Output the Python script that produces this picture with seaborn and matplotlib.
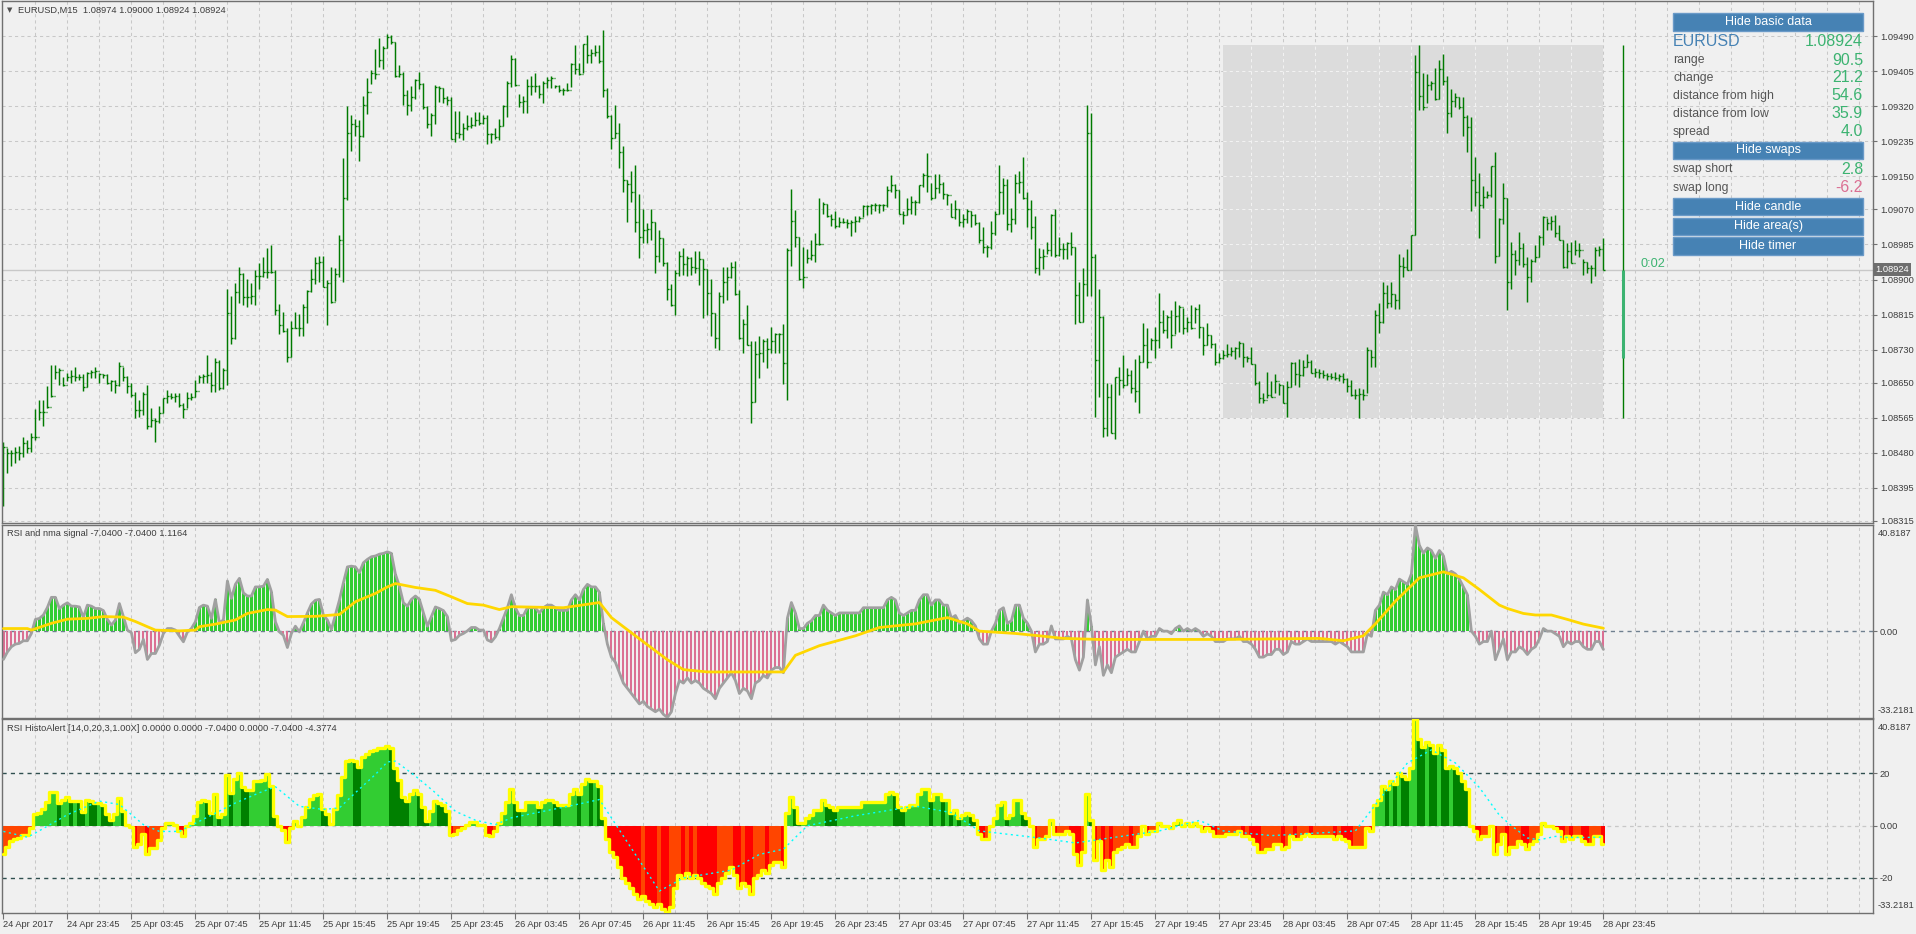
import numpy as np
import pandas as pd
import matplotlib
matplotlib.use('Agg')
import matplotlib.pyplot as plt
from matplotlib.patches import Rectangle
import seaborn as sns

# EURUSD M15 bars, 24 Apr 19:45 -> 28 Apr 23:45, prices in points (1e-5)
start_time = '2017-04-24 19:45'
first_open = 108460
high = [108507, 108491, 108487, 108495, 108497, 108519, 108510, 108528, 108586, 108607,
        108607, 108642, 108693, 108693, 108685, 108665, 108674, 108681, 108687, 108670,
        108671, 108677, 108681, 108687, 108673, 108671, 108671, 108657, 108657, 108701,
        108689, 108666, 108650, 108628, 108608, 108628, 108645, 108588, 108564, 108594,
        108612, 108632, 108626, 108624, 108624, 108600, 108628, 108626, 108657, 108669,
        108671, 108717, 108677, 108709, 108704, 108685, 108876, 108859, 108891, 108930,
        108917, 108901, 108891, 108922, 108941, 108954, 108976, 108984, 108922, 108841,
        108822, 108782, 108800, 108822, 108817, 108841, 108875, 108925, 108954, 108957,
        108957, 108899, 108930, 108927, 109008, 109194, 109321, 109299, 109288, 109287,
        109345, 109388, 109408, 109458, 109485, 109466, 109495, 109493, 109476, 109420,
        109404, 109359, 109369, 109385, 109404, 109376, 109321, 109303, 109372, 109369,
        109363, 109345, 109342, 109309, 109309, 109279, 109299, 109295, 109307, 109307,
        109299, 109299, 109256, 109267, 109288, 109323, 109380, 109444, 109436, 109350,
        109345, 109385, 109393, 109400, 109372, 109382, 109392, 109393, 109372, 109372,
        109363, 109377, 109424, 109468, 109424, 109472, 109493, 109458, 109468, 109468,
        109505, 109363, 109299, 109323, 109279, 109224, 109141, 109164, 109178, 109107,
        109070, 109038, 109070, 109040, 109020, 109000, 108943, 108889, 108922, 108970,
        108976, 108957, 108954, 108970, 108968, 108949, 108925, 108901, 108818, 108871,
        108930, 108931, 108943, 108946, 108875, 108804, 108838, 108750, 108750, 108763,
        108755, 108758, 108786, 108770, 108771, 108792, 108976, 109119, 109069, 109004,
        108978, 108973, 108996, 109012, 109097, 109089, 109083, 109060, 109067, 109052,
        109048, 109046, 109044, 109054, 109054, 109081, 109081, 109083, 109086, 109083,
        109083, 109127, 109153, 109131, 109117, 109065, 109097, 109102, 109093, 109129,
        109157, 109206, 109135, 109156, 109156, 109137, 109107, 109086, 109093, 109070,
        109060, 109070, 109065, 109059, 109040, 109028, 108984, 109043, 109067, 109178,
        109145, 109143, 109073, 109156, 109164, 109198, 109113, 109093, 109054, 108976,
        108973, 108992, 109059, 109070, 109004, 108989, 108992, 109014, 108980, 108895,
        108927, 109323, 109304, 108962, 108876, 108812, 108650, 108647, 108665, 108687,
        108717, 108685, 108681, 108707, 108717, 108794, 108782, 108758, 108786, 108867,
        108826, 108814, 108826, 108849, 108838, 108830, 108810, 108838, 108834, 108841,
        108786, 108794, 108766, 108746, 108723, 108729, 108744, 108736, 108737, 108752,
        108747, 108715, 108736, 108695, 108653, 108626, 108677, 108655, 108671, 108649,
        108645, 108653, 108701, 108701, 108707, 108704, 108720, 108704, 108685, 108682,
        108681, 108674, 108673, 108677, 108671, 108673, 108661, 108657, 108634, 108636,
        108634, 108737, 108729, 108826, 108844, 108895, 108887, 108895, 108865, 108963,
        108954, 108973, 109008, 109444, 109468, 109401, 109398, 109380, 109412, 109432,
        109447, 109393, 109361, 109353, 109343, 109342, 109299, 109295, 109198, 109157,
        109127, 109115, 109174, 109210, 109048, 109135, 109097, 108992, 108972, 109016,
        108989, 108954, 108949, 108984, 109008, 109054, 109048, 109054, 109056, 109032,
        108996, 108989, 108992, 108996, 108989, 108949, 108943, 108935, 108980, 108981,
        109000]
low = [108350, 108430, 108447, 108455, 108463, 108471, 108479, 108483, 108510, 108560,
       108545, 108588, 108616, 108658, 108645, 108641, 108653, 108650, 108653, 108657,
       108631, 108639, 108661, 108661, 108650, 108661, 108647, 108630, 108624, 108642,
       108655, 108626, 108616, 108564, 108566, 108572, 108537, 108542, 108507, 108553,
       108576, 108600, 108610, 108604, 108592, 108564, 108588, 108607, 108616, 108650,
       108650, 108649, 108628, 108628, 108632, 108634, 108645, 108744, 108755, 108842,
       108838, 108833, 108841, 108838, 108876, 108907, 108903, 108915, 108814, 108768,
       108774, 108701, 108712, 108782, 108763, 108762, 108794, 108871, 108889, 108895,
       108881, 108790, 108842, 108849, 108905, 108895, 109093, 109212, 109248, 109188,
       109246, 109301, 109374, 109385, 109416, 109409, 109460, 109471, 109392, 109390,
       109323, 109299, 109309, 109337, 109361, 109313, 109267, 109248, 109277, 109331,
       109327, 109323, 109240, 109234, 109242, 109237, 109262, 109267, 109272, 109275,
       109277, 109228, 109230, 109240, 109237, 109271, 109295, 109367, 109369, 109317,
       109303, 109303, 109347, 109355, 109339, 109327, 109363, 109363, 109363, 109355,
       109347, 109358, 109367, 109397, 109396, 109400, 109424, 109424, 109442, 109424,
       109343, 109291, 109216, 109242, 109170, 109113, 109040, 109089, 109016, 108951,
       108988, 108989, 108996, 108917, 108943, 108933, 108850, 108836, 108814, 108909,
       108911, 108909, 108911, 108917, 108887, 108806, 108814, 108762, 108733, 108729,
       108844, 108850, 108903, 108863, 108755, 108723, 108741, 108552, 108604, 108661,
       108701, 108685, 108721, 108721, 108721, 108647, 108607, 108933, 108980, 108899,
       108879, 108941, 108947, 108943, 108984, 109060, 109052, 109030, 109024, 109028,
       109036, 109024, 109006, 109014, 109040, 109052, 109056, 109059, 109065, 109062,
       109067, 109075, 109113, 109097, 109060, 109035, 109056, 109060, 109056, 109086,
       109125, 109113, 109093, 109097, 109109, 109094, 109081, 109051, 109046, 109030,
       109027, 109038, 109028, 109032, 108989, 108965, 108954, 108973, 109008, 109060,
       109060, 109020, 109016, 109035, 109109, 109094, 109027, 108998, 108915, 108911,
       108925, 108962, 108956, 108954, 108957, 108949, 108949, 108960, 108792, 108796,
       108798, 108860, 108860, 108568, 108616, 108519, 108521, 108529, 108513, 108620,
       108637, 108645, 108626, 108604, 108576, 108701, 108685, 108729, 108709, 108733,
       108770, 108758, 108733, 108768, 108774, 108768, 108774, 108780, 108794, 108758,
       108717, 108741, 108733, 108693, 108697, 108707, 108713, 108715, 108707, 108713,
       108689, 108701, 108695, 108645, 108600, 108600, 108612, 108615, 108626, 108620,
       108600, 108568, 108639, 108645, 108640, 108666, 108687, 108673, 108665, 108661,
       108661, 108657, 108658, 108657, 108653, 108649, 108628, 108618, 108610, 108564,
       108608, 108624, 108689, 108689, 108771, 108794, 108830, 108834, 108828, 108828,
       108905, 108922, 108922, 109008, 109311, 109311, 109329, 109359, 109335, 109337,
       109372, 109256, 109295, 109317, 109313, 109248, 109210, 109067, 109077, 109000,
       109073, 109097, 109101, 108939, 108956, 109035, 108826, 108876, 108911, 108935,
       108931, 108846, 108895, 108943, 108954, 108984, 109020, 109019, 109002, 108996,
       108927, 108927, 108939, 108960, 108954, 108911, 108915, 108891, 108909, 108956,
       108924]
close = [108495, 108479, 108479, 108483, 108479, 108505, 108491, 108519, 108519, 108578,
         108578, 108592, 108618, 108677, 108681, 108645, 108663, 108666, 108665, 108665,
         108639, 108674, 108677, 108679, 108671, 108669, 108649, 108654, 108645, 108691,
         108663, 108641, 108620, 108584, 108584, 108623, 108545, 108560, 108557, 108576,
         108612, 108618, 108616, 108618, 108596, 108586, 108612, 108616, 108631, 108665,
         108666, 108669, 108645, 108699, 108637, 108681, 108820, 108758, 108871, 108914,
         108857, 108857, 108859, 108909, 108909, 108919, 108919, 108919, 108826, 108790,
         108776, 108712, 108782, 108782, 108782, 108833, 108873, 108901, 108941, 108943,
         108883, 108892, 108846, 108914, 108996, 109097, 109256, 109277, 109272, 109248,
         109323, 109355, 109401, 109398, 109432, 109460, 109487, 109476, 109393, 109398,
         109347, 109323, 109343, 109384, 109374, 109317, 109277, 109299, 109366, 109363,
         109339, 109335, 109240, 109254, 109253, 109267, 109271, 109275, 109287, 109280,
         109291, 109253, 109253, 109245, 109271, 109321, 109376, 109434, 109372, 109331,
         109333, 109369, 109369, 109369, 109350, 109377, 109384, 109388, 109369, 109359,
         109359, 109359, 109422, 109409, 109398, 109471, 109444, 109448, 109452, 109430,
         109359, 109296, 109242, 109254, 109210, 109141, 109132, 109111, 109040, 109002,
         109020, 109022, 109040, 108957, 109000, 108941, 108876, 108838, 108917, 108957,
         108938, 108951, 108930, 108927, 108949, 108925, 108867, 108818, 108758, 108860,
         108895, 108905, 108931, 108865, 108758, 108792, 108741, 108604, 108720, 108721,
         108752, 108731, 108752, 108768, 108768, 108697, 108972, 109043, 109002, 108901,
         108905, 108951, 108960, 108986, 108986, 109083, 109054, 109046, 109030, 109040,
         109040, 109036, 109040, 109043, 109048, 109078, 109078, 109081, 109081, 109081,
         109081, 109117, 109129, 109117, 109060, 109056, 109070, 109089, 109089, 109129,
         109153, 109151, 109097, 109121, 109131, 109107, 109105, 109051, 109070, 109040,
         109046, 109065, 109056, 109036, 108996, 108980, 108978, 109012, 109060, 109111,
         109129, 109035, 109046, 109135, 109137, 109097, 109070, 109028, 108927, 108954,
         108956, 108972, 109056, 108960, 108973, 108973, 108989, 108978, 108863, 108798,
         108889, 109256, 108954, 108705, 108810, 108540, 108615, 108529, 108665, 108657,
         108645, 108669, 108637, 108631, 108701, 108741, 108701, 108754, 108754, 108798,
         108778, 108810, 108766, 108812, 108834, 108782, 108798, 108782, 108828, 108784,
         108741, 108766, 108744, 108701, 108709, 108717, 108720, 108728, 108733, 108746,
         108712, 108709, 108695, 108649, 108612, 108608, 108620, 108616, 108653, 108645,
         108602, 108640, 108697, 108671, 108669, 108689, 108701, 108674, 108677, 108673,
         108669, 108666, 108665, 108661, 108666, 108658, 108642, 108620, 108620, 108623,
         108620, 108729, 108713, 108814, 108796, 108868, 108844, 108865, 108850, 108933,
         108931, 108922, 109008, 109404, 109345, 109319, 109372, 109376, 109337, 109409,
         109380, 109304, 109333, 109342, 109317, 109295, 109269, 109141, 109113, 109081,
         109101, 109105, 109174, 108956, 109046, 109097, 108895, 108962, 108947, 108976,
         108938, 108905, 108946, 108954, 109004, 109052, 109038, 109043, 109012, 108996,
         108930, 108968, 108941, 108972, 108972, 108943, 108927, 108927, 108972, 108974,
         108924]

# RSI(14) - 50, one value per bar
rsi = [-10.9, -8.0, -6.0, -5.0, -4.7, -3.7, -3.7, -0.9, 4.5, 4.9,
       6.2, 9.1, 13.0, 13.0, 8.7, 10.0, 10.9, 9.6, 9.6, 9.3,
       5.3, 10.0, 9.6, 8.7, 8.7, 7.9, 4.5, 2.3, 4.3, 10.6,
       5.6, 0.4, -0.6, -8.3, -7.0, -3.2, -10.9, -8.6, -8.6, -5.4,
       -0.9, 1.0, 1.0, 0.4, -1.9, -4.1, -0.3, 1.0, 3.6, 9.1,
       10.0, 9.6, 4.9, 12.2, 3.2, 4.3, 19.3, 12.6, 18.0, 20.3,
       14.7, 13.5, 13.5, 17.0, 17.0, 17.3, 19.9, 15.2, 3.6, -0.3,
       -1.6, -6.3, -0.9, 1.9, -0.3, 3.2, 7.0, 10.4, 11.9, 12.2,
       6.2, 4.3, 0.6, 6.2, 11.9, 18.6, 24.7, 25.0, 24.7, 22.5,
       26.3, 27.6, 28.6, 28.9, 29.6, 29.9, 30.5, 29.9, 21.9, 17.3,
       10.9, 9.6, 12.2, 13.5, 12.2, 7.0, 1.9, 5.6, 9.3, 8.7,
       7.9, 5.6, -3.7, -3.2, -1.6, -0.9, 0.1, 1.4, 1.4, 0.4,
       0.4, -3.4, -4.1, -2.2, 1.0, 5, 9, 14, 9, 6,
       6, 9, 9, 9, 7, 9, 10, 10, 9, 8,
       8, 8, 12, 14, 12, 16, 18, 17, 17, 15,
       3, -5, -10, -12, -16, -20, -22, -24, -26, -28,
       -27, -29, -30, -31, -30, -32, -33.2, -31, -24, -19,
       -20, -18, -20, -19, -20, -22, -23, -24, -26, -22,
       -20, -18, -16, -19, -24, -22, -23, -26, -20, -19,
       -17, -18, -15, -14, -14, -16, 5, 11, 7, 1,
       1, 3, 4, 6, 6, 10, 8, 7, 6, 7,
       7, 7, 7, 7, 7, 9, 9, 9, 9, 9,
       9, 12, 13, 12, 7, 6, 7, 8, 8, 12,
       14, 14, 10, 12, 12, 10, 10, 5, 6, 3,
       4, 5, 4, 2, -3, -5, -5, 0, 3, 8,
       9, 3, 4, 10, 10, 5, 3, 0, -8, -5,
       -5, -4, 2, -3, -3, -3, -2, -3, -11, -15,
       -10, 12, 2, -13, -6, -17, -13, -16, -10, -9,
       -8, -7, -8, -8, -4, 0, -3, -2, -2, 1,
       0, 0, -1, 1, 2, 0, 1, 0, 1, 0,
       -2, -1, -2, -4, -4, -4, -3, -3, -3, -2,
       -4, -4, -5, -7, -10, -10, -9, -9, -7, -7,
       -9, -8, -4, -5, -5, -4, -3, -4, -4, -4,
       -4, -4, -4, -5, -4, -5, -6, -8, -8, -8,
       -8, -1, -2, 8, 10, 15, 14, 17, 16, 20,
       19, 18, 22, 40.8, 33, 30, 32, 31, 28, 31,
       29, 22, 23, 22, 20, 17, 14, 0, -2, -5,
       -4, -4, 0, -11, -7, -3, -11, -8, -8, -6,
       -7, -9, -7, -6, -3, 1, 0, 0, -1, -2,
       -6, -4, -5, -4, -4, -6, -7, -7, -4, -4,
       -7.04]

# nma signal (panel 1, yellow)
sig_bar = [0, 6, 7, 12, 16, 21, 25, 30, 33, 36, 38, 44, 48, 49, 53, 58, 61, 66, 68, 71,
           78, 84, 88, 93, 96, 98, 103, 108, 112, 116, 120, 124, 127, 140, 149, 152, 158, 166, 170, 176,
           195, 198, 204, 213, 219, 228, 236, 241, 244, 253, 259, 265, 274, 305, 329, 335, 340, 343, 348, 354,
           360, 365, 369, 374, 376, 380, 383, 387, 391, 395, 400]
sig_val = [1.0, 1.0, 0.4, 3.0, 4.6, 4.9, 5.6, 5.4, 3.7, 1.7, 0.4, 0.1, 0.4, 1.7, 2.7, 4.3, 6.8, 8.3, 8.1, 5.6,
           5.7, 6.4, 11.3, 14.5, 17.0, 18.3, 16.8, 15.7, 13.2, 10.6, 10.0, 8.3, 9.4, 9.0, 11.0, 5.2, -1.8, -11.0, -14.8, -15.7,
           -15.7, -9.3, -5.6, -1.8, 1.4, 2.8, 5.2, 2.8, 0.0, -0.9, -1.8, -2.8, -3.2, -3.2, -2.8, -3.7, -1.8, 2.8, 11.5, 20.5,
           22.8, 20.5, 16.0, 10.0, 8.7, 6.8, 6.2, 6.2, 4.5, 2.7, 1.1164]

# histo alert signal (panel 2, cyan dotted)
cyan_bar = [0, 6, 8, 16, 24, 29, 35, 39, 44, 49, 58, 64, 68, 74, 80, 84, 88, 93, 96, 98,
            103, 108, 113, 118, 123, 127, 143, 149, 164, 170, 182, 189, 195, 201, 213, 228, 237, 244, 259, 268,
            289, 299, 305, 317, 338, 345, 351, 357, 363, 369, 374, 377, 381, 384, 388, 391, 396, 400]
cyan_val = [-2.2, -4.4, -2.8, 4.2, 9.4, 8.1, 0.4, -2.2, -2.2, 1.7, 8.7, 12.6, 14.9, 7.4, 6.2, 6.8, 12.6, 19.6, 24.4, 24.7,
            19.0, 12.6, 5.5, 2.1, 0.4, 3.0, 8.0, 10.0, -25.0, -20.0, -17.0, -11.0, -9.0, 0.0, 3.8, 7.5, 5.0, -2.0, -4.7, -6.6,
            -2.0, 2.0, -2.0, -3.8, -2.0, 12.0, 24.0, 29.0, 24.0, 14.6, 4.0, 0.0, -4.7, -5.4, -4.1, -4.5, -4.5, -4.3774]

price_ticks = [1.09490, 1.09405, 1.09320, 1.09235, 1.09150, 1.09070, 1.08985, 1.08900,
               1.08815, 1.08730, 1.08650, 1.08565, 1.08480, 1.08395, 1.08315]
rsi_max, rsi_min = 40.8187, -33.2181

info_names = ['range', 'change', 'distance from high', 'distance from low', 'spread', 'swap short', 'swap long']
info_values = ['90.5', '21.2', '54.6', '35.9', '4.0', '2.8', '-6.2']
button_names = ['Hide basic data', 'Hide swaps', 'Hide candle', 'Hide area(s)', 'Hide timer']

# ---- frame ----
n = len(close)
df = pd.DataFrame({'bar': np.arange(n),
                   'time': pd.date_range(start_time, periods=n, freq='15min'),
                   'high': np.array(high) / 1e5,
                   'low': np.array(low) / 1e5,
                   'close': np.array(close) / 1e5,
                   'rsi': rsi})
df['open'] = df['close'].shift(1).fillna(first_open / 1e5)
prev = df['rsi'].shift(1).fillna(df['rsi'])
df['p2'] = np.select([(df.rsi >= 0) & (df.rsi >= prev), df.rsi >= 0, df.rsi >= prev],
                     ['up_rise', 'up_fall', 'dn_rise'], 'dn_fall')
p2_pal = {'up_rise': '#32CD32', 'up_fall': '#008000', 'dn_rise': '#FF4500', 'dn_fall': '#FF0000'}

day = df[df['time'].dt.date == df['time'].iloc[-1].date()]
day_open, day_high, day_low = df.loc[day.index[0], 'open'], day['high'].max(), day['low'].min()
last = df.iloc[-1]

sns.set_style('white')
plt.rcParams['font.family'] = ['Liberation Sans', 'DejaVu Sans']

W, H = 1916, 934
BG, GRID, TXT, EDGE = '#F0F0F0', '#C8C8C8', '#3C3C3C', '#707070'
FS = 6.7
fig = plt.figure(figsize=(W / 100, H / 100), dpi=100, facecolor=BG)

def box(x0, y0, x1, y1):
    return [x0 / W, 1 - y1 / H, (x1 - x0) / W, (y1 - y0) / H]

ax0 = fig.add_axes(box(2, 1, 1873, 523))
ax1 = fig.add_axes(box(2, 525, 1873, 717.5))
ax2 = fig.add_axes(box(2, 719, 1873, 912.5))
xmax = 467.4

for ax in (ax0, ax1, ax2):
    ax.set_facecolor(BG)
    for s in ax.spines.values():
        s.set_color(EDGE)
        s.set_linewidth(1)
    for b in range(8, int(xmax), 8):
        ax.axvline(b, color=GRID, lw=0.75, ls=(0, (3, 3)), zorder=0)

# ---- price panel ----
for p in price_ticks:
    ax0.axhline(p, color=GRID, lw=0.75, ls=(0, (3, 3)), zorder=0)
ax0.add_patch(Rectangle((day.bar.iloc[0], day_low), day.bar.iloc[-1] - day.bar.iloc[0], day_high - day_low,
                        facecolor='#DCDCDC', edgecolor='none', zorder=0.5))
for b in range(8, int(xmax), 8):
    if day.bar.iloc[0] < b < day.bar.iloc[-1]:
        ax0.vlines(b, day_low, day_high, color='#F2F2F2', lw=0.75, ls=(0, (3, 3)), zorder=0.6)
for p in price_ticks:
    if day_low < p < day_high:
        ax0.hlines(p, day.bar.iloc[0], day.bar.iloc[-1], color='#F2F2F2', lw=0.75, ls=(0, (3, 3)), zorder=0.6)
ax0.axhline(last['close'], color='#C8C8C8', lw=1, zorder=0.8)

ax0.vlines(df['bar'], df['low'], df['high'], color='#007A00', lw=1.05, zorder=2)
ax0.hlines(df['open'], df['bar'] - 0.45, df['bar'], color='#007A00', lw=1.0, zorder=2)
ax0.hlines(df['close'], df['bar'], df['bar'] + 0.45, color='#007A00', lw=1.0, zorder=2)

# daily candle of the info panel
cx = last['bar'] + 5
ax0.vlines(cx, day_low, day_high, color='#007A00', lw=1.0, zorder=2)
ax0.vlines(cx, day_open, last['close'], color='#3CB371', lw=2.2, zorder=3)
ax0.text(0.8755, 0.497, '0:02', transform=ax0.transAxes, color='#3CB371', fontsize=9.2, va='center')

ax0.set_ylim(1.08310, 1.09575)
ax0.set_yticks(price_ticks)
ax0.set_yticklabels([f'{p:.5f}' for p in price_ticks])
ax0.annotate(f"{last['close']:.5f}", xy=(1.0012, last['close']), xycoords=('axes fraction', 'data'),
             color='white', fontsize=FS, va='center', ha='left', annotation_clip=False,
             bbox=dict(boxstyle='square,pad=0.18', facecolor='#6E6E6E', edgecolor='none'))

# ---- RSI and nma signal ----
pos = df[df['rsi'] >= 0]
neg = df[df['rsi'] < 0]
sns.barplot(x=pos['bar'], y=pos['rsi'], native_scale=True, width=0.72, color='#32CD32', saturation=1,
            linewidth=0, errorbar=None, ax=ax1, zorder=2)
sns.barplot(x=neg['bar'], y=neg['rsi'], native_scale=True, width=0.55, color='#DB7093', saturation=1,
            linewidth=0, errorbar=None, ax=ax1, zorder=2)
ax1.axhline(0, color='#708090', lw=1, ls=(0, (3, 3)), zorder=1)
sns.lineplot(x=df['bar'], y=df['rsi'], color='#A0A0A0', lw=2, ax=ax1, zorder=3)
sns.lineplot(x=sig_bar, y=sig_val, color='#FFD700', lw=2, ax=ax1, zorder=4)

# ---- RSI HistoAlert ----
sns.barplot(data=df, x='bar', y='rsi', hue='p2', palette=p2_pal, native_scale=True, dodge=False,
            width=1.0, saturation=1, linewidth=0, errorbar=None, legend=False, ax=ax2, zorder=2)
ax2.axhline(0, color=GRID, lw=0.9, ls=(0, (3, 3)), zorder=1)
for lvl in (20, -20):
    ax2.axhline(lvl, color='#2F4F4F', lw=1, ls=(0, (3, 3)), zorder=1)
ax2.plot(df['bar'], df['rsi'], color='#FFFF00', lw=2.4, drawstyle='steps-mid', zorder=3)
ax2.plot(cyan_bar, cyan_val, color='#00FFFF', lw=1, ls=(0, (1.5, 2.5)), zorder=4)

for ax in (ax1, ax2):
    ax.set_ylim(rsi_min, rsi_max)
    ax.text(1.0025, 0.978, f'{rsi_max:.4f}', transform=ax.transAxes, fontsize=FS, color=TXT, va='top')
    ax.text(1.0025, 0.012, f'{rsi_min:.4f}', transform=ax.transAxes, fontsize=FS, color=TXT, va='bottom')
ax1.set_yticks([0])
ax1.set_yticklabels(['0.00'])
ax2.set_yticks([20, 0, -20])
ax2.set_yticklabels(['20', '0.00', '-20'])

for ax in (ax0, ax1, ax2):
    ax.set_xlim(-0.35, xmax)
    ax.set_xlabel('')
    ax.set_ylabel('')
    ax.tick_params(axis='y', left=False, right=True, labelleft=False, labelright=True, length=3, width=0.8,
                   color=EDGE, labelsize=FS, labelcolor=TXT, pad=2)
    ax.tick_params(axis='x', bottom=False, labelbottom=False)

ticks = df['bar'][::16]
ax2.set_xticks(ticks)
ax2.set_xticklabels(['24 Apr 2017'] + [t.strftime('%d %b %H:%M') for t in df['time'][16::16]], ha='left')
ax2.tick_params(axis='x', bottom=True, labelbottom=True, length=4, width=0.8, color=EDGE,
                labelsize=FS, labelcolor=TXT, pad=1.5)

# ---- labels ----
fig.text(7 / W, 1 - 10.5 / H, '\u25BC', fontsize=5, color='#505050', va='center', family='DejaVu Sans')
fig.text(18 / W, 1 - 10.5 / H,
         f"EURUSD,M15  {last['open']:.5f} {last['high']:.5f} {last['low']:.5f} {last['close']:.5f}",
         fontsize=FS, color=TXT, va='center')
fig.text(7 / W, 1 - 534 / H, 'RSI and nma signal -7.0400 -7.0400 1.1164', fontsize=FS, color=TXT, va='center')
fig.text(7 / W, 1 - 728.5 / H,
         'RSI HistoAlert [14,0,20,3,1.00X] 0.0000 0.0000 -7.0400 0.0000 -7.0400 -4.3774',
         fontsize=FS, color=TXT, va='center')

# ---- info panel ----
for name, (y0, y1) in zip(button_names, [(13, 31), (142, 159), (198, 215), (218, 235), (237, 255)]):
    fig.patches.append(Rectangle((1673 / W, 1 - y1 / H), 190 / W, (y1 - y0) / H, transform=fig.transFigure,
                                 facecolor='#4682B4', edgecolor='#6A9AC8', lw=1))
    fig.text(1768 / W, 1 - (y0 + y1) / 2 / H, name, color='white', fontsize=9, ha='center', va='center')

fig.text(1673 / W, 1 - 41.5 / H, 'EURUSD', color='#4682B4', fontsize=11.5, va='center')
fig.text(1863 / W, 1 - 41.5 / H, f"{last['close']:.5f}", color='#3CB371', fontsize=11.5, va='center', ha='right')
for name, val, y in zip(info_names, info_values, [60.5, 77.7, 95.7, 113.7, 131.7, 169.3, 187.7]):
    fig.text(1673 / W, 1 - y / H, name, color='#555555', fontsize=8.8, va='center')
    fig.text(1863 / W, 1 - y / H, val, color='#DB7093' if val.startswith('-') else '#3CB371',
             fontsize=11.5, va='center', ha='right')

fig.savefig('out.png', dpi=100, facecolor=BG)
